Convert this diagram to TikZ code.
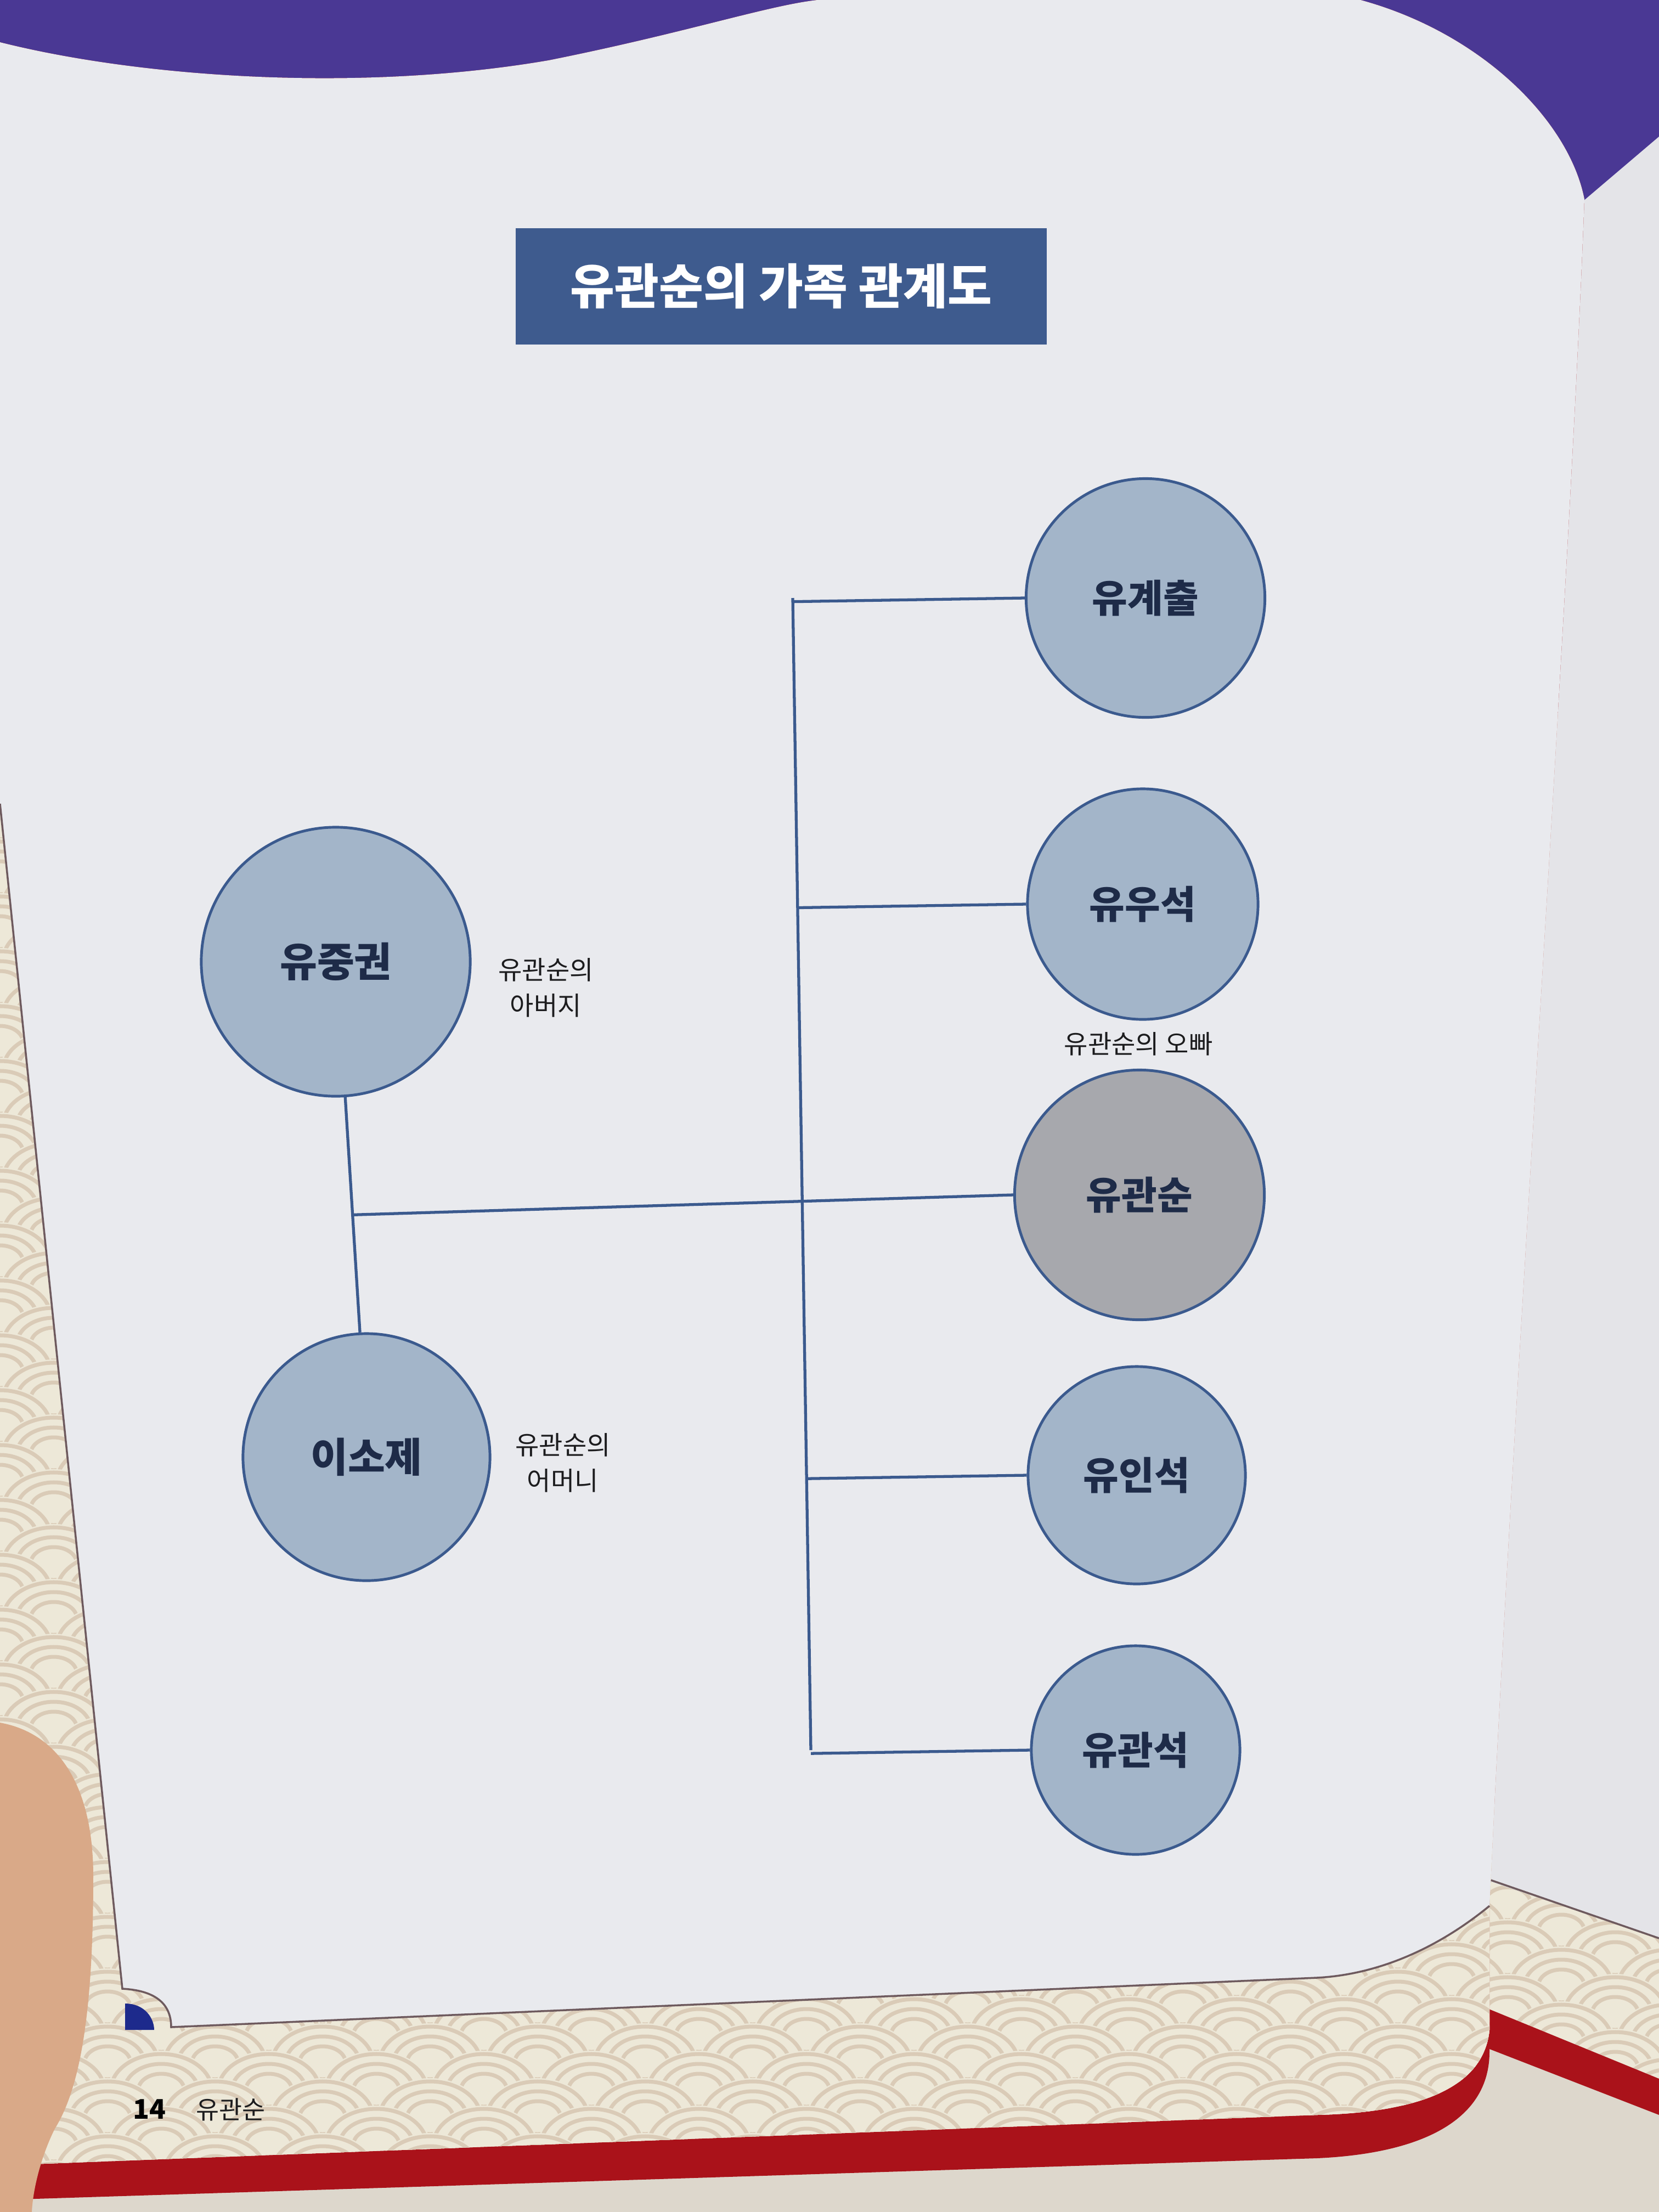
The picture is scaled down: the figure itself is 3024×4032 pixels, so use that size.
\documentclass[tikz,border=0pt]{standalone}
\usepackage{fontspec}
\setmainfont{Noto Sans CJK KR}
\usetikzlibrary{calc}
\definecolor{tablec}{HTML}{DDD7CC}
\definecolor{purp}{HTML}{4A3894}
\definecolor{pagec}{HTML}{E9EAEE}
\definecolor{nextp}{HTML}{E4E4E8}
\definecolor{creamc}{HTML}{EDE8D8}
\definecolor{patc}{HTML}{DACBB7}
\definecolor{bordc}{HTML}{6E5A5E}
\definecolor{redc}{HTML}{AA121A}
\definecolor{skin}{HTML}{D9A988}
\definecolor{navyc}{HTML}{1D2A8C}
\definecolor{tblue}{HTML}{3E5B8E}
\definecolor{cfill}{HTML}{A3B5C9}
\definecolor{gfill}{HTML}{A7A8AD}
\definecolor{cline}{HTML}{3B5A8E}
\definecolor{ctext}{HTML}{1E2B48}
\definecolor{ltext}{HTML}{1C1C1E}
\newcommand{\seigscallop}[2]{%
  \fill[creamc] (#1,#2) ellipse[x radius=0.98cm, y radius=0.72cm];
  \draw[patc, line width=2pt]
    (#1,#2) ellipse[x radius=0.92cm, y radius=0.66cm]
    (#1,#2) ellipse[x radius=0.67cm, y radius=0.48cm]
    (#1,#2) ellipse[x radius=0.42cm, y radius=0.30cm];}
\begin{document}
\begin{tikzpicture}[x=0.01cm,y=-0.01cm,
  person/.style={circle, draw=cline, line width=1.4pt, fill=cfill, text=ctext,
    font=\fontsize{20}{24}\selectfont\bfseries, inner sep=0pt},
  conn/.style={draw=cline, line width=1.5pt},
  lbl/.style={text=ltext, align=center, inner sep=0pt,
    font=\fontsize{13.4}{18.4}\selectfont},
  bord/.style={draw=bordc, line width=1pt}]
\useasboundingbox (0,0) rectangle (3024,4032);
% ---------- background: photo of the book page ----------
\fill[tablec] (0,0) rectangle (3024,4032);
\fill[purp] (0,0) rectangle (3024,600);
% next page on the right
\fill[nextp] (2870,380) -- (3024,249) -- (3024,3789) -- (2687,3651) -- cycle;
\begin{scope}
  \clip (2690,3421) -- (3024,3533) -- (3024,3789) -- (2687,3651) -- cycle;
  \fill[creamc] (2600,3400) rectangle (3024,3800);
  \foreach \j in {0,...,8}{
    \foreach \i in {0,...,2}{
      \pgfmathsetmacro\xx{2650+\i*196+mod(\j,2)*98}
      \pgfmathsetmacro\yy{3420+\j*50}
      \seigscallop{\xx}{\yy}
    }}
\end{scope}
\draw[bord] (2700,3421) -- (3024,3533);
\fill[redc] (2687,3651) -- (3024,3789) -- (3024,3855) -- (2687,3724) -- cycle;
% current page: red edge
\fill[redc] (0,77) .. controls (250,140) and (650,170) .. (1000,110)
  .. controls (1250,60) and (1400,10) .. (1490,0) -- (2480,0)
  .. controls (2700,60) and (2860,220) .. (2888,363)
  .. controls (2860,1100) and (2760,2500) .. (2715,3474)
  -- (2715,3740) .. controls (2715,3860) and (2600,3925) .. (2400,3934)
  -- (0,4010) -- cycle;
% cream frame with wave pattern
\begin{scope}
  \clip (0,77) -- (2888,363)
    .. controls (2860,1100) and (2760,2500) .. (2715,3474)
    -- (2715,3700) .. controls (2705,3800) and (2600,3850) .. (2400,3855)
    -- (0,3947) -- cycle;
  \fill[creamc] (0,1300) rectangle (2900,4000);
  \foreach \j in {0,...,41}{
    \foreach \i in {0,...,1}{
      \pgfmathsetmacro\xx{\i*196+mod(\j,2)*98}
      \pgfmathsetmacro\yy{1400+\j*50}
      \seigscallop{\xx}{\yy}
    }}
  \foreach \j in {0,...,13}{
    \foreach \i in {0,...,14}{
      \pgfmathsetmacro\xx{\i*196+mod(\j,2)*98}
      \pgfmathsetmacro\yy{3360+\j*50}
      \seigscallop{\xx}{\yy}
    }}
\end{scope}
% white inner page
\fill[pagec] (0,77) .. controls (250,140) and (650,170) .. (1000,110)
  .. controls (1250,60) and (1400,10) .. (1490,0) -- (2480,0)
  .. controls (2700,60) and (2860,220) .. (2888,363)
  .. controls (2860,1100) and (2760,2500) .. (2715,3474)
  .. controls (2610,3560) and (2500,3600) .. (2400,3605)
  -- (312,3695) .. controls (312,3650) and (280,3628) .. (223,3625)
  -- (0,1465) -- cycle;
\draw[bord] (0,1465) -- (223,3625) .. controls (280,3628) and (312,3650) .. (312,3695)
  -- (2400,3605) .. controls (2500,3600) and (2610,3560) .. (2715,3474);
\fill[navyc] (228,3652) .. controls (265,3652) and (281,3680) .. (281,3700)
  -- (228,3700) -- cycle;
\fill[skin] (0,3140) .. controls (110,3160) and (170,3260) .. (170,3420)
  .. controls (170,3650) and (150,3800) .. (100,3880)
  .. controls (75,3930) and (60,3990) .. (58,4032) -- (0,4032) -- cycle;
% ---------- title ----------
\node[fill=tblue, text=white, minimum width=9.68cm, minimum height=2.12cm,
  inner sep=0pt, font=\fontsize{25}{29}\selectfont\bfseries] (title) at (1424,522)
  {유관순의 가족 관계도};
% ---------- people ----------
\node[person, minimum size=4.35cm] (gc) at (2088,1090) {유계출};
\node[person, minimum size=4.2cm] (us) at (2083,1648) {유우석};
\node[person, fill=gfill, minimum size=4.55cm] (gs) at (2077,2178) {유관순};
\node[person, minimum size=3.96cm] (is) at (2072,2689) {유인석};
\node[person, minimum size=3.8cm] (ks) at (2070,3190) {유관석};
\node[person, minimum size=4.9cm, font=\fontsize{21}{25}\selectfont\bfseries] (jk) at (612,1753) {유중권};
\node[person, minimum size=4.5cm, font=\fontsize{21}{25}\selectfont\bfseries] (sj) at (668,2656) {이소제};
% ---------- labels ----------
\node[lbl] (lf) at (995,1800) {유관순의\\아버지};
\node[lbl] (lm) at (1026,2666) {유관순의\\어머니};
\node[lbl] (lb) at (2075,1903) {유관순의 오빠};
% ---------- connectors ----------
\coordinate (st) at (1445,1090);
\coordinate (sb) at (1478,3190);
\draw[conn] (st) -- (sb);
\draw[conn] ($(st)!(gc.west)!(sb)$) -- (gc.west);
\draw[conn] ($(st)!(us.west)!(sb)$) -- (us.west);
\draw[conn] ($(st)!(is.west)!(sb)$) -- (is.west);
\draw[conn] ($(st)!(ks.west)!(sb)$) -- (ks.west);
\draw[conn] (jk.-86) -- (sj.93);
\coordinate (pj) at ($(jk.-86)!0.5!(sj.93)$);
\draw[conn] (pj) -- (gs.west);
% ---------- footer ----------
\node[anchor=west, inner sep=0pt, text=black, font=\fontsize{14}{16}\selectfont\bfseries]
  (pgnum) at (242,3845) {14};
\node[anchor=west, inner sep=0pt, text=ltext, font=\fontsize{13}{16}\selectfont]
  (pgname) at (357,3845) {유관순};
\end{tikzpicture}
\end{document}
